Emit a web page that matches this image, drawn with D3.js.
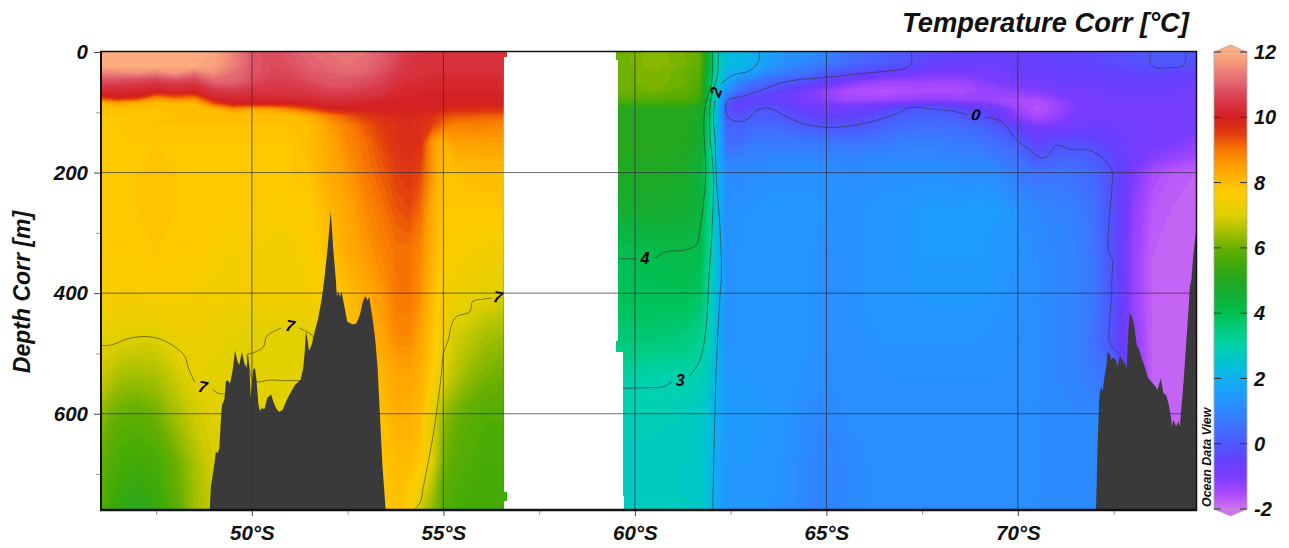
<!DOCTYPE html>
<html><head><meta charset="utf-8">
<style>
html,body{margin:0;padding:0;background:#fff}
svg{display:block}
text{font-family:"Liberation Sans",Arial,sans-serif;font-weight:bold;font-style:italic;fill:#111}
</style>
<script src="https://cdn.jsdelivr.net/npm/d3@7"></script>
</head><body>
<svg id="c" width="1289" height="548"></svg>
<script>
// ---------- chart data (degrees south, metres, degrees C) ----------
const latTicks = [50,55,60,65,70];
const latMinorTicks = [47.5,52.5,57.5,62.5,67.5,72.5];
const depthTicks = [0,200,400,600];
const depthMinorTicks = [100,300,500,700];
const colorTicks = [-2,0,2,4,6,8,10,12];

const colorValues = [-2,-1.5,-1,-.5,0,.5,1,1.5,2,2.5,3,3.5,4,4.5,5,5.5,6,6.5,7,7.7,8,8.5,9,9.5,10,10.5,11,11.5,12];
const colorHex = ["#d070f0","#a848ff","#7a3cff","#6540ff","#5058ff","#4070ff","#2e88ff","#1e9cff","#10b0f0","#00c4d0","#00d2ac","#00cc80","#00c050","#10b038","#22a820","#40aa08","#68b000","#a8c000","#e0d000","#ffcc00","#ffbc00","#ffa000","#f87800","#e03c10","#d42020","#d83848","#e06070","#f08878","#ffb080"];

const westLats = [46.06,46.5,47,47.5,48,48.5,49,49.5,50,50.5,51,51.5,52,52.5,53,53.5,53.8,54.1,54.4,54.7,55,55.3,55.7,56.1,56.55];
const westDepths = [0,25,35,45,55,65,75,85,95,105,120,150,200,260,330,400,470,540,610,680,760];
const westTemps = [
[12,12,12,12,12,12,11.9,11.5,10.9,10.7,10.9,11.1,11.2,11.3,11.2,10.9,10.7,10.5,10.4,10.4,10.3,10.3,10.3,10.3,10.3],
[11.9,11.9,11.9,11.9,11.9,11.9,11.8,11.4,10.9,10.7,10.8,11,11.1,11.2,11.1,10.8,10.6,10.4,10.3,10.3,10.3,10.3,10.3,10.3,10.3],
[11.4,11.5,11.6,11.4,11.7,11.3,11.6,11.2,10.9,10.7,10.7,10.9,11,11.1,11,10.7,10.5,10.4,10.3,10.3,10.3,10.3,10.3,10.3,10.3],
[10.9,10.9,10.8,10.7,10.9,10.7,11.2,11.1,10.8,10.6,10.6,10.8,10.9,10.9,10.8,10.6,10.4,10.3,10.3,10.2,10.2,10.2,10.2,10.2,10.2],
[10.5,10.5,10.4,10.3,10.4,10.3,10.8,10.9,10.6,10.5,10.5,10.6,10.8,10.8,10.7,10.5,10.3,10.2,10.2,10.2,10.2,10.2,10.2,10.2,10.2],
[10.2,10.2,10.2,10.1,10.2,10.1,10.4,10.5,10.4,10.4,10.4,10.5,10.6,10.6,10.5,10.4,10.2,10.2,10.1,10.1,10.1,10.1,10.1,10.1,10.1],
[9.6,10,9.8,8.8,9.2,9,10.2,10.2,10.2,10.2,10.3,10.3,10.4,10.4,10.3,10.2,10.1,10.1,10,10,10,10,10,10,10],
[8,8.4,8.1,8,8,8,9.3,10,10,10,10,10.1,10.2,10.2,10.1,10,10,10,10,10,10,10,10,10,10],
[7.9,7.9,7.9,7.9,7.9,7.9,8,8.6,8.3,8.4,8.8,9.3,9.8,10,10,10,10,9.9,10,10,9.9,9.7,9.7,9.7,9.7],
[7.8,7.8,7.8,7.8,7.9,7.9,7.9,7.9,7.9,7.9,8,8.3,8.9,9.3,9.6,9.8,9.8,9.9,9.8,9.7,9.4,9.3,9.3,9.2,9.2],
[7.8,7.8,7.9,7.9,7.9,7.9,7.9,7.9,7.9,7.9,7.9,8,8.5,8.9,9.3,9.6,9.7,9.8,9.7,9.5,9.1,8.9,8.9,8.9,8.8],
[7.8,7.8,7.8,7.8,7.8,7.8,7.8,7.8,7.8,7.8,7.8,8,8.3,8.8,9.1,9.5,9.7,9.8,9.7,8.6,8.1,8.5,8.5,8.5,8.5],
[7.8,7.8,7.8,7.9,7.8,7.8,7.8,7.8,7.8,7.8,7.8,7.9,8.3,8.6,9,9.3,9.5,9.6,9.4,8.6,7.9,7.9,8,8,8],
[7.8,7.8,7.8,7.9,7.8,7.8,7.7,7.7,7.7,7.6,7.6,7.7,8.1,8.4,8.8,9.1,9.3,9.4,9.1,8.3,7.8,7.8,7.8,7.8,7.8],
[7.7,7.7,7.7,7.8,7.7,7.7,7.6,7.5,7.5,7.4,7.4,7.6,7.9,8.3,8.6,8.9,9.05,9.05,8.8,8.2,7.7,7.6,7.5,7.4,7.4],
[7.6,7.5,7.5,7.6,7.6,7.5,7.4,7.4,7.4,7.4,7.4,7.5,7.6,8,8.3,8.7,9,9,8.7,8,7.5,7.3,7.2,7.1,7],
[7.1,7.1,7,7,7.2,7.3,7.2,7.1,7,7,7,7,7.4,7.8,8.1,8.5,8.8,8.8,8.4,7.9,7.3,6.9,6.7,6.5,6.4],
[6.8,6.5,6.4,6.5,6.8,7.1,7,7,7,7,7,7,7.2,7.6,7.9,8.2,8.4,8.4,8.2,7.7,7,6.6,6.3,6.1,6],
[6.2,5.9,5.8,6,6.4,6.8,7,7,7,7,7,7,7.1,7.4,7.7,8,8.2,8.2,8,7.1,6.3,6,5.8,5.7,5.7],
[5.9,5.6,5.5,5.6,6,6.5,6.9,7,7,7,7,7,7,7.2,7.5,7.9,8,8,7.8,7,6.1,5.8,5.7,5.6,5.6],
[5.7,5.3,5.1,5.3,5.8,6.4,6.8,7,7,7,7,7,7,7.1,7.4,7.8,7.9,7.5,6.8,6.3,5.8,5.6,5.5,5.5,5.5]
];

const eastLats = [59.56,60.5,61.3,61.7,61.95,62.15,62.4,62.7,63,63.5,64,64.5,65,65.5,66,66.5,67,67.5,68,68.5,69,69.5,70,70.5,71,71.5,72,72.5,73,73.5,74,74.65];
const eastDepths = [0,20,35,50,65,80,95,110,125,150,175,200,260,340,420,480,540,600,680,760];
const eastTemps = [
[6,6.3,6.1,5.9,4.2,2.9,2.3,2.2,2.1,1.7,1.3,1.2,1,.6,.4,.2,.05,-.2,-.3,-.4,-.5,-.5,-.5,-.5,-.4,-.4,-.3,-.2,-.1,.1,.15,-.1],
[6,6.3,6.1,5.9,4.2,3,2.3,2.2,2.05,1.5,1.1,.9,.7,.4,.2,.1,-.1,-.4,-.6,-.6,-.7,-.7,-.6,-.6,-.5,-.5,-.4,-.3,-.2,-.05,.05,-.2],
[6,6.2,6,5.8,4.1,2.9,2,1.9,1.6,1,.7,.5,.1,-.2,-.4,-.6,-.8,-.9,-1,-1,-.9,-.8,-.7,-.7,-.6,-.6,-.5,-.5,-.4,-.4,-.4,-.5],
[6,6.2,6,5.7,3.8,2.7,1.8,1,.7,.3,0,-.2,-.6,-1,-1.3,-1.4,-1.4,-1.4,-1.4,-1.4,-1.2,-1,-.9,-.8,-.7,-.7,-.7,-.6,-.6,-.6,-.6,-.7],
[6,6.1,5.9,5.6,3.8,2.4,1.2,.5,.1,-.2,-.6,-1,-1.3,-1.55,-1.6,-1.65,-1.6,-1.55,-1.55,-1.55,-1.4,-1.3,-1.2,-1.1,-.9,-.8,-.8,-.7,-.7,-.7,-.7,-.8],
[5.7,5.7,5.7,5.4,3.8,2.3,.3,-.4,-.5,-.5,-.7,-1,-1.2,-1.4,-1.45,-1.4,-1.3,-1.2,-1.2,-1.3,-1.3,-1.45,-1.55,-1.6,-1.3,-1,-.8,-.8,-.8,-.8,-.8,-.9],
[5,5,5,4.9,3.7,2.3,-.2,-.4,-.2,0,-.3,-.6,-.7,-.7,-.6,-.4,-.1,0,0,-.3,-.5,-.8,-1.4,-1.65,-1.45,-1,-.8,-.8,-.8,-.8,-.8,-.9],
[5,5,5,4.8,3.6,2.2,.1,-.1,.15,.15,-.1,-.3,-.4,-.4,-.3,-.05,.2,.3,.3,.1,-.1,-.5,-1.1,-1.5,-1.25,-.9,-.8,-.8,-.8,-.8,-.8,-.9],
[5,5,5,4.7,3.5,2.1,.3,.2,.4,.4,.3,.1,0,-.05,.1,.3,.4,.5,.5,.4,.3,0,-.5,-.9,-.9,-.8,-.7,-.7,-.8,-.8,-.8,-.9],
[5,5,5,4.7,3.4,2.1,.5,.4,.7,.7,.7,.7,.7,.6,.6,.7,.8,.8,.8,.7,.6,.4,.1,-.4,-.2,-.1,-.3,-.6,-.8,-.9,-1,-1.2],
[5,5,4.9,4.6,3.4,2.1,.8,.8,.9,.9,1,1,.9,.9,.9,1,1,1,1,.9,.9,.7,.5,0,.2,.2,.05,-.4,-.8,-1.1,-1.3,-1.5],
[4.9,4.9,4.8,4.5,3.5,2.2,1.1,1,1.1,1.1,1.2,1.2,1.2,1.1,1.1,1.2,1.2,1.2,1.2,1.1,1.1,1,.7,.5,.6,.5,.3,-.2,-1,-1.5,-1.7,-1.8],
[4.6,4.7,4.6,4.4,3.3,2.2,1.2,1.2,1.3,1.4,1.4,1.4,1.3,1.3,1.3,1.4,1.4,1.5,1.5,1.5,1.6,1.5,1.2,1,.9,.8,.5,-.2,-1.2,-1.7,-1.8,-1.9],
[4,4.1,4.2,4.1,3.2,2.2,1.3,1.3,1.4,1.4,1.4,1.3,1.1,1.2,1.3,1.4,1.4,1.5,1.5,1.5,1.5,1.4,1.3,1.1,1,.9,.6,-.2,-1.3,-1.8,-1.9,-1.9],
[3.9,3.9,3.9,3.7,3,2.1,1.3,1.3,1.4,1.4,1.4,1.3,1.1,1.2,1.3,1.4,1.4,1.4,1.4,1.4,1.4,1.3,1.3,1.1,1,.9,.6,-.1,-1.3,-1.8,-1.9,-1.9],
[3.6,3.6,3.5,3.3,2.9,2.1,1.3,1.3,1.4,1.4,1.4,1.3,1.1,1.1,1.2,1.3,1.3,1.3,1.3,1.3,1.3,1.3,1.2,1.1,1,.9,.5,-.2,-1.2,-1.8,-1.9,-1.9],
[3.1,3,3,2.9,2.6,2,1.4,1.4,1.4,1.4,1.4,1.2,1.1,1.1,1.2,1.2,1.2,1.2,1.2,1.2,1.2,1.2,1.2,1.1,1,.9,.7,.5,-1,-1.8,-1.9,-1.9],
[2.9,2.9,2.8,2.7,2.4,1.9,1.5,1.5,1.5,1.4,1.3,1.1,1,1.1,1.2,1.2,1.2,1.2,1.2,1.2,1.2,1.2,1.2,1.1,1,1,1,1,-1,-1.8,-1.9,-1.9],
[2.7,2.7,2.7,2.6,2.3,1.8,1.4,1.4,1.4,1.4,1.2,1,.9,1,1.1,1.2,1.2,1.2,1.2,1.2,1.2,1.2,1.2,1.1,1,1,1,1,-1,-1.8,-1.9,-1.9],
[2.7,2.7,2.7,2.6,2.3,1.8,1.4,1.4,1.4,1.3,1.2,1,.9,1,1.1,1.2,1.2,1.2,1.2,1.2,1.2,1.2,1.2,1.1,1,1,1,1,-1,-1.8,-1.9,-1.9]
];

const westSectionEdge = [[46.06,0],[56.65,0],[56.65,7],[56.56,7],[56.56,731],[56.65,731],[56.65,744],[56.56,744],[56.56,758],[46.06,758]];
const eastSectionEdge = [[59.51,0],[59.51,12],[59.56,12],[59.56,480],[59.51,480],[59.51,497],[59.69,497],[59.69,735],[59.73,735],[59.73,758],[74.65,758],[74.65,0]];

const westSeabed = [[48.9,758],[48.93,721],[49.01,688],[49.06,663],[49.11,665],[49.15,657],[49.19,610],[49.22,585],[49.28,577],[49.32,547],[49.36,544],[49.43,550],[49.5,527],[49.56,495],[49.62,513],[49.67,519],[49.74,497],[49.8,516],[49.86,524],[49.9,498],[49.95,544],[49.97,574],[50.03,527],[50.08,524],[50.12,544],[50.17,585],[50.21,595],[50.26,591],[50.33,592],[50.4,574],[50.5,568],[50.56,580],[50.63,591],[50.71,597],[50.8,594],[50.91,577],[51,566],[51.13,552],[51.27,544],[51.34,524],[51.38,497],[51.41,464],[51.44,472],[51.49,496],[51.56,486],[51.64,464],[51.73,442],[51.82,411],[51.89,377],[51.98,323],[52.06,265],[52.12,323],[52.19,377],[52.22,406],[52.25,397],[52.3,406],[52.34,397],[52.4,417],[52.49,447],[52.56,450],[52.65,452],[52.73,450],[52.82,436],[52.91,411],[52.97,405],[53.02,412],[53.06,406],[53.15,442],[53.22,477],[53.28,522],[53.34,599],[53.41,688],[53.49,758]];
const eastSeabed = [[72.04,758],[72.08,654],[72.12,580],[72.14,566],[72.17,555],[72.21,563],[72.25,544],[72.32,516],[72.33,498],[72.4,501],[72.44,511],[72.49,506],[72.55,510],[72.6,522],[72.66,504],[72.73,511],[72.79,516],[72.84,524],[72.88,466],[72.92,433],[72.98,439],[73.04,455],[73.1,486],[73.17,494],[73.23,508],[73.32,524],[73.4,541],[73.53,550],[73.65,560],[73.73,541],[73.8,566],[73.87,569],[73.94,585],[74,607],[74.02,621],[74.06,610],[74.13,621],[74.19,613],[74.23,621],[74.27,588],[74.33,544],[74.4,477],[74.45,433],[74.49,389],[74.53,377],[74.58,335],[74.65,298],[74.65,758]];

const isolines = [
 [[46.07,487],[46.33,486],[46.73,476],[47.17,472],[47.6,476],[48.03,491],[48.25,505],[48.34,524],[48.51,548]],
 [[48.97,559],[49.12,566],[49.31,567]],
 [[51.27,545],[50.82,545],[50.47,544],[50.12,547],[49.99,541],[49.93,522],[49.88,502],[50.03,499],[50.3,489],[50.38,472],[50.56,464],[50.77,458]],
 [[51.24,458],[51.43,464],[51.56,469],[51.62,476]],
 [[54.26,758],[54.4,746],[54.47,723],[54.65,665],[54.78,616],[54.95,533],[55,500],[55.13,477],[55.21,453],[55.34,439],[55.69,431],[55.76,414],[56.04,410],[56.26,408]],
 [[62.03,0],[62,52],[61.85,85],[61.8,118],[61.85,201],[61.78,256],[61.68,301],[61.61,320],[61.26,329],[60.83,331],[60.52,342]],
 [[60.03,343],[59.56,343]],
 [[62.18,0],[62.15,41],[62,74],[61.96,96],[61.96,140],[62.05,201],[62,312],[61.93,378],[61.91,406],[61.85,461],[61.7,511],[61.42,538]],
 [[60.96,547],[60.74,555],[60.22,557],[59.69,558]],
 [[63.25,0],[63.22,16],[63,31],[62.57,38],[62.26,52]],
 [[62.09,80],[62.05,107],[62.09,146],[62.13,212],[62.22,290],[62.26,367],[62.22,406],[62.13,516],[62.09,599],[62.03,758]],
 [[67.22,0],[67.21,19],[67.05,27],[66.92,29],[66.05,35],[65,42],[63.96,49],[63.18,66],[62.83,73],[62.44,80],[62.36,93],[62.44,108],[62.65,115],[62.92,112],[63.18,97],[63.48,93],[63.87,104],[64.31,117],[65,125],[65.87,120],[66.48,110],[66.92,100],[67.18,92],[67.79,95],[68.31,98],[68.66,104]],
 [[69.14,108],[69.53,114],[69.7,124],[69.96,146],[70.27,160],[70.62,176],[70.79,171],[71.01,155],[71.18,157],[71.4,162],[71.71,161],[72.05,168],[72.31,182],[72.46,198],[72.45,229],[72.4,267],[72.36,328],[72.47,345],[72.45,378],[72.45,400],[72.4,444],[72.39,480],[72.49,491],[72.66,502]],
 [[73.46,0],[73.46,18],[73.58,26],[73.88,26],[74.32,23],[74.38,13],[74.38,0]]
];
const isolineLabels = ["7","7","7","4","3","2","0"];
const isolineLabelLats = [48.72,51,56.42,60.26,61.18,62.11,68.9];
const isolineLabelDepths = [555,454,406,342,544,66,104];
const isolineLabelAngles = [10,10,10,0,0,-70,10];

// ---------- scales ----------
const svg = d3.select("#c");
const x = d3.scaleLinear().domain([46.06,74.65]).range([101,1196]);
const y = d3.scaleLinear().domain([0,758]).range([52,509]);
const cbar = d3.scaleLinear().domain([-2,12]).range([509,52]);
const color = d3.scaleLinear().domain(colorValues).range(colorHex).clamp(true);
const thresholds = d3.range(-2.5,12.5,0.1);

// ---------- temperature field (filled contours) ----------
const defs = svg.append("defs");
function section(id, lats, depths, rows, edge){
  const poly = d3.line().x(d=>x(d[0])).y(d=>y(d[1]));
  defs.append("clipPath").attr("id",id).append("path").attr("d",poly(edge)+"Z");
  const latAt = d3.scaleLinear().domain(d3.range(lats.length)).range(lats);
  const depAt = d3.scaleLinear().domain(d3.range(depths.length)).range(depths);
  const contours = d3.contours().size([lats.length,depths.length]).thresholds(thresholds)(rows.flat());
  const path = d3.geoPath(d3.geoTransform({point(px,py){
    this.stream.point(x(latAt(px-0.5)), y(depAt(py-0.5)));
  }}));
  const g = svg.append("g").attr("clip-path",`url(#${id})`);
  g.selectAll("path").data(contours).join("path")
    .attr("d",path).attr("fill",d=>color(d.value+0.05)).attr("stroke",d=>color(d.value+0.05)).attr("stroke-width",0.3);
}
section("westClip",westLats,westDepths,westTemps,westSectionEdge);
section("eastClip",eastLats,eastDepths,eastTemps,eastSectionEdge);

// ---------- sea floor ----------
const seabedArea = d3.area().x(d=>x(d[0])).y0(y(758)).y1(d=>y(d[1])).curve(d3.curveLinear);
svg.append("path").attr("d",seabedArea(westSeabed)).attr("fill","#3a3a3a");
svg.append("path").attr("d",seabedArea(eastSeabed)).attr("fill","#3a3a3a");

// ---------- isolines ----------
const isoline = d3.line().x(d=>x(d[0])).y(d=>y(d[1])).curve(d3.curveCatmullRom.alpha(0.5));
svg.append("g").selectAll("path").data(isolines).join("path")
  .attr("d",isoline).attr("fill","none").attr("stroke","#333").attr("stroke-width",0.7).attr("stroke-opacity",0.85);
svg.append("g").selectAll("text").data(isolineLabels).join("text")
  .attr("transform",(d,i)=>`translate(${x(isolineLabelLats[i])},${y(isolineLabelDepths[i])}) rotate(${isolineLabelAngles[i]})`)
  .attr("text-anchor","middle").attr("dy","0.36em").attr("font-size",16).style("fill","#000").text(d=>d);

// ---------- grid ----------
svg.append("g").selectAll("line").data(latTicks).join("line")
  .attr("x1",d=>x(d)).attr("x2",d=>x(d)).attr("y1",y(0)).attr("y2",y(758))
  .attr("stroke","#303040").attr("stroke-opacity",0.75).attr("stroke-width",1);
svg.append("g").selectAll("line").data(depthTicks.slice(1)).join("line")
  .attr("x1",x(46.06)).attr("x2",x(74.65)).attr("y1",d=>y(d)).attr("y2",d=>y(d))
  .attr("stroke","#303040").attr("stroke-opacity",0.7).attr("stroke-width",1);

// ---------- axes ----------
function styleAxis(g,size,tick){
  g.select(".domain").remove();
  g.selectAll("line").attr("stroke",tick);
  g.selectAll("text").attr("font-size",size).style("fill","#111");
}
svg.append("g").attr("transform","translate(0,510)")
  .call(d3.axisBottom(x).tickValues(latTicks).tickSize(6).tickPadding(9).tickFormat(d=>`${d}°S`))
  .call(g=>styleAxis(g,20.5,"#444"));
svg.append("g").attr("transform","translate(0,510)")
  .call(d3.axisBottom(x).tickValues(latMinorTicks).tickSize(5).tickFormat(""))
  .call(g=>styleAxis(g,17,"#999"));
svg.append("g").attr("transform","translate(101,0)")
  .call(d3.axisLeft(y).tickValues(depthTicks).tickSize(7).tickPadding(6))
  .call(g=>styleAxis(g,20.5,"#444"));
svg.append("g").attr("transform","translate(101,0)")
  .call(d3.axisLeft(y).tickValues(depthMinorTicks).tickSize(5).tickFormat(""))
  .call(g=>styleAxis(g,17,"#999"));

// frame
svg.append("line").attr("x1",100).attr("x2",1197).attr("y1",51.5).attr("y2",51.5).attr("stroke","#111").attr("stroke-width",1.5);
svg.append("line").attr("x1",100).attr("x2",1197).attr("y1",510).attr("y2",510).attr("stroke","#111").attr("stroke-width",2.5);
svg.append("line").attr("x1",101).attr("x2",101).attr("y1",51).attr("y2",511).attr("stroke","#111").attr("stroke-width",2);
svg.append("line").attr("x1",1196.5).attr("x2",1196.5).attr("y1",51).attr("y2",511).attr("stroke","#111").attr("stroke-width",1.5);

// titles
svg.append("text").attr("x",1189).attr("y",32).attr("text-anchor","end").attr("font-size",27.4).text("Temperature Corr [°C]");
svg.append("text").attr("transform","translate(30,292) rotate(-90)").attr("text-anchor","middle").attr("font-size",23).text("Depth Corr [m]");
svg.append("text").attr("transform","translate(1211,507) rotate(-90)").attr("font-size",12.4).text("Ocean Data View");

// ---------- colour bar ----------
const cbL = 1214, cbR = 1247;
const grad = defs.append("linearGradient").attr("id","cb").attr("x1",0).attr("x2",0).attr("y1",1).attr("y2",0);
grad.selectAll("stop").data(colorValues).join("stop")
  .attr("offset",d=>(d+2)/14).attr("stop-color",d=>color(d));
svg.append("path").attr("d",`M${cbL},${cbar(12)}L${(cbL+cbR)/2},45L${cbR},${cbar(12)}Z`).attr("fill",color(12)).attr("stroke","#aaa").attr("stroke-width",0.8);
svg.append("path").attr("d",`M${cbL},${cbar(-2)}L${(cbL+cbR)/2},516L${cbR},${cbar(-2)}Z`).attr("fill",color(-2)).attr("stroke","#aaa").attr("stroke-width",0.8);
svg.append("rect").attr("x",cbL).attr("y",cbar(12)).attr("width",cbR-cbL).attr("height",cbar(-2)-cbar(12)).attr("fill","url(#cb)").attr("stroke","#aaa").attr("stroke-width",0.8);
svg.append("g").selectAll("line").data(colorTicks).join("line")
  .attr("x1",cbL).attr("x2",cbL+7).attr("y1",d=>cbar(d)).attr("y2",d=>cbar(d)).attr("stroke","#333");
svg.append("g").selectAll("line").data(colorTicks).join("line")
  .attr("x1",cbR-7).attr("x2",cbR).attr("y1",d=>cbar(d)).attr("y2",d=>cbar(d)).attr("stroke","#333");
svg.append("g").selectAll("text").data(colorTicks).join("text")
  .attr("x",1254).attr("y",d=>cbar(d)).attr("dy","0.36em").attr("font-size",20).text(d=>d);
</script>
</body></html>
